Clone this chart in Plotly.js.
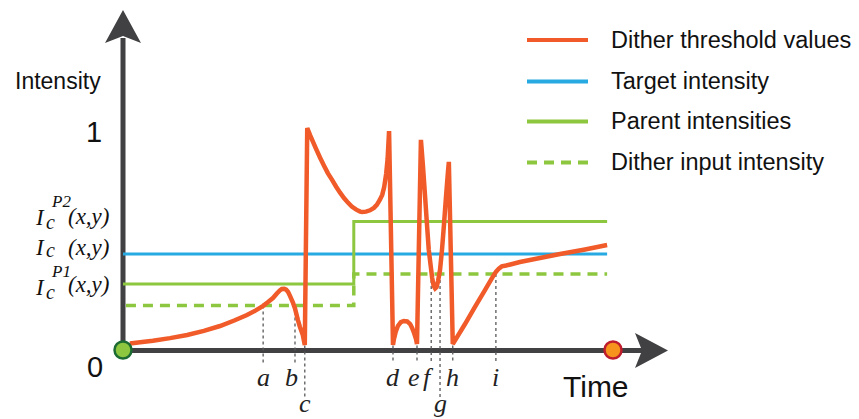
<!DOCTYPE html>
<html>
<head>
<meta charset="utf-8">
<script src="https://cdn.plot.ly/plotly-3.0.1.min.js"></script>
<style>html,body{margin:0;padding:0;background:#fff;}#chart{width:859px;height:419px;}</style>
</head>
<body>
<div id="chart"></div>
<script>
// ---- Data (time normalised: 0 = start dot, 1 = end dot; intensity 0..1) ----
const thresholdTime = [
  0.014,0.035,0.061,0.096,0.131,0.165,0.198,0.227,0.253,0.271,0.286,0.296,0.306,0.314,0.320,0.324,0.329,0.333,0.337,0.341,0.347,0.351,0.357,0.361,0.367,0.371,
  0.376,0.382,0.388,0.394,0.402,0.410,0.418,0.427,0.435,0.443,0.451,0.459,0.467,0.476,0.484,0.488,
  0.496,0.504,0.512,0.518,0.524,0.529,0.533,0.537,0.540,0.543,
  0.551,0.553,0.557,0.561,0.567,0.573,0.580,0.586,0.590,0.594,0.598,0.600,
  0.608,0.612,0.616,0.620,0.624,0.628,0.631,0.634,0.637,0.640,0.643,0.647,0.651,0.655,0.659,0.663,0.665,
  0.673,0.698,0.718,0.739,0.753,0.761,0.767,0.773,0.782,0.810,0.851,0.892,0.943,0.988];
const thresholdValue = [
  0.030,0.035,0.042,0.054,0.068,0.087,0.109,0.134,0.159,0.180,0.201,0.218,0.236,0.257,0.271,0.277,0.278,0.274,0.264,0.245,0.214,0.189,0.136,0.105,0.068,0.023,
  1.009,0.976,0.945,0.914,0.875,0.839,0.804,0.772,0.742,0.715,0.691,0.670,0.652,0.638,0.629,0.627,
  0.629,0.635,0.646,0.660,0.682,0.705,0.741,0.800,0.868,0.995,
  0.023,0.050,0.086,0.109,0.127,0.132,0.130,0.118,0.100,0.077,0.050,0.027,
  0.955,0.841,0.714,0.582,0.455,0.382,0.327,0.291,0.280,0.286,0.314,0.364,0.455,0.568,0.691,0.805,0.855,
  0.027,0.118,0.195,0.273,0.327,0.355,0.370,0.380,0.384,0.400,0.418,0.436,0.457,0.477];

const targetTime = [0, 0.988];
const targetValue = [0.436, 0.436];

const parentTime = [0, 0.471, 0.988];
const parentValue = [0.300, 0.584, 0.584];

const inputTime = [0.006, 0.471, 0.988];
const inputValue = [0.202, 0.345, 0.345];

const eventLabels = ['a','b','c','d','e','f','g','h','i'];
const eventTime   = [0.286,0.351,0.371,0.551,0.600,0.629,0.647,0.673,0.761];
const eventTop    = [0.202,0.202,0.020,0.020,0.020,0.345,0.345,0.020,0.345];
const eventRow    = [1,1,2,1,1,1,2,1,1];

const legendNames = ['Dither threshold values','Target intensity','Parent intensities','Dither input intensity'];

// ---- Colours ----
const cOrange = '#f15a29', cBlue = '#27aae1', cGreen = '#8dc63f', cAxis = '#414042';

// pixel -> paper helpers for decorations (margins are 0)
const W = 859, H = 419;
const px = x => x / W, py = y => 1 - y / H;

const rowBottom = {1: -0.059, 2: -0.218};
const rowLabel  = {1: -0.125, 2: -0.241};

// dotted guide lines built from event arrays
const gx = [], gy = [];
eventTime.forEach((t, i) => { gx.push(t, t, null); gy.push(eventTop[i], rowBottom[eventRow[i]], null); });

const traces = [
  {x: gx, y: gy, mode: 'lines', line: {color: '#58595b', width: 1.3, dash: 'dot'}, hoverinfo: 'skip', showlegend: false},
  {x: targetTime, y: targetValue, mode: 'lines', name: legendNames[1], line: {color: cBlue, width: 3}},
  {x: parentTime, y: parentValue, mode: 'lines', name: legendNames[2], line: {color: cGreen, width: 3, shape: 'hv'}},
  {x: inputTime, y: inputValue, mode: 'lines', name: legendNames[3], line: {color: cGreen, width: 3.5, shape: 'hv', dash: '10px,7px'}},
  {x: thresholdTime, y: thresholdValue, mode: 'lines', name: legendNames[0], line: {color: cOrange, width: 4.5, simplify: false}},
  {x: [0], y: [0], mode: 'markers', marker: {size: 17, color: cGreen, line: {color: '#1c6b33', width: 2.5}}, showlegend: false},
  {x: [1], y: [0], mode: 'markers', marker: {size: 17, color: '#f7941d', line: {color: '#be1e2d', width: 2.5}}, showlegend: false}
];

const shapes = [
  // vertical axis
  {type: 'line', xref: 'paper', yref: 'paper', x0: px(123), y0: py(351), x1: px(123), y1: py(38), line: {color: cAxis, width: 5}, layer: 'below'},
  {type: 'path', xref: 'paper', yref: 'paper', path: `M${px(123)},${py(10)} L${px(105)},${py(43)} L${px(123)},${py(36)} L${px(141)},${py(43)} Z`, fillcolor: cAxis, line: {width: 0}, layer: 'below'},
  // horizontal axis
  {type: 'line', xref: 'paper', yref: 'paper', x0: px(121), y0: py(350.5), x1: px(643), y1: py(350.5), line: {color: cAxis, width: 5}, layer: 'below'},
  {type: 'path', xref: 'paper', yref: 'paper', path: `M${px(668)},${py(350.5)} L${px(635)},${py(333)} L${px(642)},${py(350.5)} L${px(635)},${py(368)} Z`, fillcolor: cAxis, line: {width: 0}, layer: 'below'}
];

const sans = 'Arial';
const serif = 'Liberation Serif, Times New Roman, serif';

// manual legend
const legendY = [40, 81.5, 121.5, 162.5];
const legendStyle = [
  {color: cOrange, width: 4}, {color: cBlue, width: 4}, {color: cGreen, width: 4}, {color: cGreen, width: 4, dash: '10px,7px'}
];
const annotations = [];
legendNames.forEach((n, i) => {
  shapes.push({type: 'line', xref: 'paper', yref: 'paper', x0: px(527), x1: px(588), y0: py(legendY[i]), y1: py(legendY[i]), line: legendStyle[i]});
  annotations.push({xref: 'paper', yref: 'paper', x: px(609), y: py(legendY[i] - 0.5), text: n, showarrow: false,
    xanchor: 'left', yanchor: 'middle', font: {family: sans, size: 23.5, color: '#111'}});
});

// event letters
eventLabels.forEach((l, i) => {
  const shift = {b: -3, e: -3, f: -3}[l] || 0;
  annotations.push({x: eventTime[i], y: rowLabel[eventRow[i]], xshift: shift, text: '<i>' + l + '</i>', showarrow: false,
    xanchor: 'center', yanchor: 'middle', font: {family: serif, size: 26, color: '#222'}});
});

function txt(x, y, text, size, family, anchor) {
  annotations.push({xref: 'paper', yref: 'paper', x: px(x), y: py(y), text: text, showarrow: false,
    xanchor: anchor || 'left', yanchor: 'middle', font: {family: family, size: size, color: '#111'}});
}
txt(13, 81, 'Intensity', 23, sans);
txt(94, 131.5, '1', 29, sans, 'center');
txt(95, 367, '0', 29, sans, 'center');
txt(596, 386, 'Time', 30, sans, 'center');

// left math labels
const mathRows = [
  {sup: 'P2', iy: 217.3, cy: 222.3, sy: 201, xy: 216.3},
  {sup: '',   iy: 247.3, cy: 250.3, sy: 0,   xy: 247.3},
  {sup: 'P1', iy: 287.3, cy: 292.3, sy: 271, xy: 284.3}
];
mathRows.forEach(r => {
  txt(33, r.iy, '<i>I</i>', 23, serif);
  txt(44, r.cy, '<i>c</i>', 20, serif);
  if (r.sup) txt(49, r.sy, '<i>' + r.sup + '</i>', 17, serif);
  txt(66, r.xy, '<i>(x,y)</i>', 23, serif);
});

const layout = {
  width: W, height: H, autosize: false,
  margin: {l: 0, r: 0, t: 0, b: 0, pad: 0},
  paper_bgcolor: '#ffffff', plot_bgcolor: '#ffffff',
  showlegend: false,
  xaxis: {range: [-0.25102, 1.50204], visible: false, fixedrange: true},
  yaxis: {range: [-0.31364, 1.59091], visible: false, fixedrange: true},
  shapes: shapes,
  annotations: annotations
};

Plotly.newPlot('chart', traces, layout, {staticPlot: true, displayModeBar: false});
</script>
</body>
</html>
